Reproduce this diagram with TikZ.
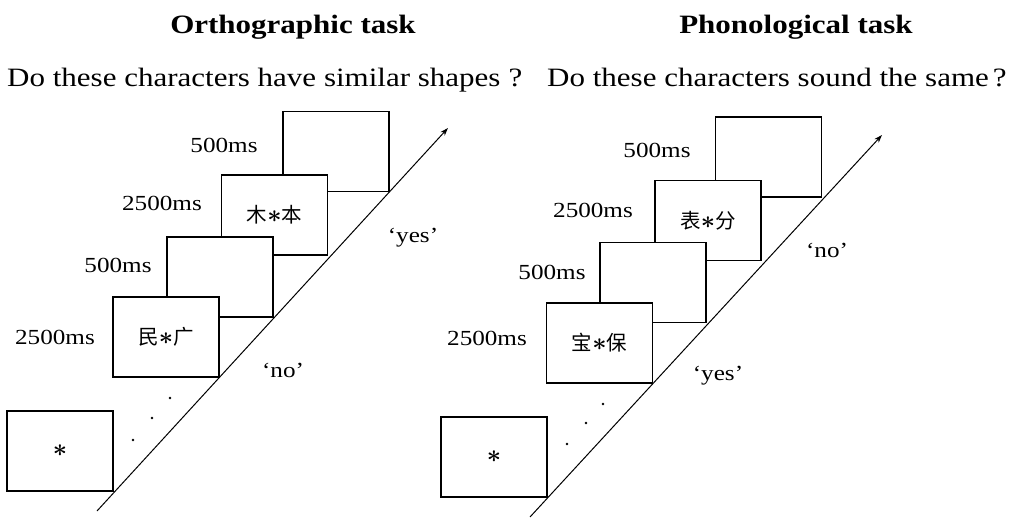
\documentclass[tikz,border=0pt]{standalone}
\usepackage{fontspec}
\setmainfont{Liberation Serif}[FakeStretch=1.17]
\newfontfamily\cjk{Noto Sans CJK SC}
\usetikzlibrary{arrows.meta}
\newcommand\starsym[1][27pt]{{\fontsize{#1}{#1}\selectfont\boldmath$\ast$}}
\begin{document}
\begin{tikzpicture}[x=1pt,y=-1pt,
  box/.style={draw, line width=1.8pt, fill=white, minimum width=106pt, minimum height=80pt,
    inner sep=0pt, font=\cjk\fontsize{20.5pt}{20.5pt}\selectfont},
  lbl/.style={font=\fontsize{21.5pt}{21.5pt}\selectfont, inner sep=0pt},
  dotnode/.style={circle, fill, inner sep=0pt, minimum size=2.6pt},
  ttl/.style={font=\bfseries\fontsize{26.5pt}{26.5pt}\selectfont, inner sep=0pt, anchor=base},
  qst/.style={font=\fontsize{26.5pt}{26.5pt}\selectfont, inner sep=0pt, anchor=base west},
  timeline/.style={line width=1pt, -{Stealth[length=8pt,width=5.5pt]}}]
\useasboundingbox (0,0) rectangle (1014,519);
% titles and questions
\node[ttl] (t1) at (293,34) {Orthographic task};
\node[ttl] (t2) at (796,34) {Phonological task};
\node[qst] (q1) at (7,86) {Do these characters have similar shapes\hspace{8pt}?};
\node[qst] (q2) at (547,86) {Do these characters sound the same\hspace{4pt}?};
% ---------- left panel ----------
\node[box] (L5) at (336,151.5) {};
\node[box] (L4) at (274.5,215) {木\starsym 本};
\node[box] (L3) at (220,277) {};
\node[box] (L2) at (166,337) {民\starsym 广};
\node[box] (L1) at (60,451) {\starsym[38pt]};
\coordinate (La) at (97,511);
\coordinate (Lb) at (448,128);
\draw[timeline] (La) -- (Lb);
\node[lbl] (l5) at (224,145) {500ms};
\node[lbl] (l4) at (162,203) {2500ms};
\node[lbl] (l3) at (118,265) {500ms};
\node[lbl] (l2) at (55,337) {2500ms};
\node[lbl] (lyes) at (413,238) {‘yes’};
\node[lbl] (lno) at (283,370) {‘no’};
\node[dotnode] (ld1) at (170,398) {};
\node[dotnode] (ld2) at (152,418) {};
\node[dotnode] (ld3) at (133,440) {};
% ---------- right panel ----------
\node[box] (R5) at (768.5,157) {};
\node[box] (R4) at (708,220.5) {表\starsym 分};
\node[box] (R3) at (653,282.5) {};
\node[box] (R2) at (599.5,343) {宝\starsym 保};
\node[box] (R1) at (494,457) {\starsym[38pt]};
\coordinate (Ra) at (530,517);
\coordinate (Rb) at (882,135);
\draw[timeline] (Ra) -- (Rb);
\node[lbl] (r5) at (657,150) {500ms};
\node[lbl] (r4) at (593,210) {2500ms};
\node[lbl] (r3) at (552,272) {500ms};
\node[lbl] (r2) at (487,338) {2500ms};
\node[lbl] (rno) at (827,250) {‘no’};
\node[lbl] (ryes) at (718,376) {‘yes’};
\node[dotnode] (rd1) at (603,404) {};
\node[dotnode] (rd2) at (586,423) {};
\node[dotnode] (rd3) at (567,444) {};
\end{tikzpicture}
\end{document}
